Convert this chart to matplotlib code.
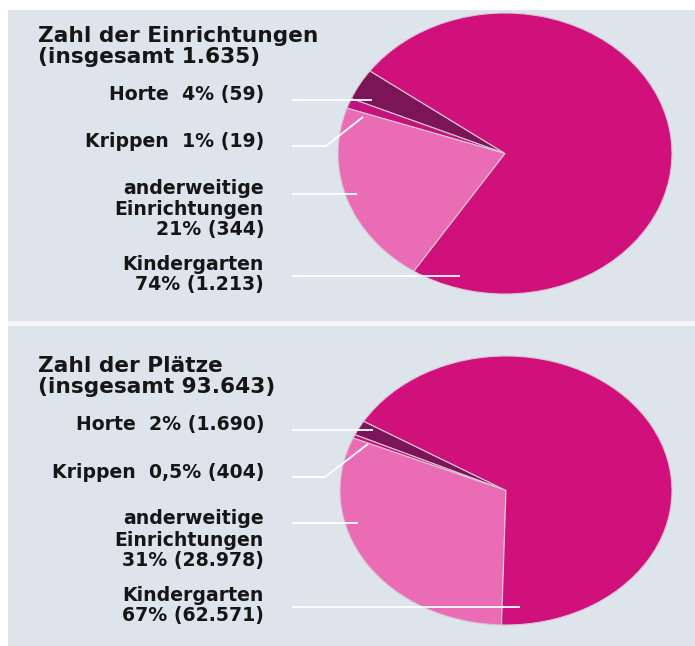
import matplotlib.pyplot as plt
from matplotlib.patches import Rectangle

# Anteile der Einrichtungen und der Plätze
kategorien = ["Horte", "Krippen", "anderweitige Einrichtungen", "Kindergarten"]
einrichtungen = [59, 19, 344, 1213]
plaetze = [1690, 404, 28978, 62571]

labels_einrichtungen = [["Horte  4% (59)"], ["Krippen  1% (19)"],
                        ["anderweitige", "Einrichtungen", "21% (344)"],
                        ["Kindergarten", "74% (1.213)"]]
labels_plaetze = [["Horte  2% (1.690)"], ["Krippen  0,5% (404)"],
                  ["anderweitige", "Einrichtungen", "31% (28.978)"],
                  ["Kindergarten", "67% (62.571)"]]
titel_einrichtungen = ["Zahl der Einrichtungen", "(insgesamt 1.635)"]
titel_plaetze = ["Zahl der Plätze", "(insgesamt 93.643)"]

farben = ["#7c1458", "#c4137c", "#ea6cb4", "#d0117c"]
bg = "#dde4ec"

W, H = 695, 646
fig = plt.figure(figsize=(W / 100, H / 100), dpi=100)
fig.patch.set_facecolor("white")


def px_axes(x0, y0, x1, y1):
    return fig.add_axes([x0 / W, 1 - y1 / H, (x1 - x0) / W, (y1 - y0) / H])


# Hintergrund
bg_ax = px_axes(0, 0, W, H)
bg_ax.set_xlim(0, W)
bg_ax.set_ylim(H, 0)
bg_ax.axis("off")
bg_ax.add_patch(Rectangle((8, 10), W - 8, H - 10, color=bg, lw=0))
bg_ax.add_patch(Rectangle((8, 321), W - 8, 5, color="#f4f6f8", lw=0))


def draw_pie(box, werte, start):
    ax = px_axes(*box)
    ax.pie(werte, colors=farben, startangle=start, counterclock=True,
           wedgeprops=dict(edgecolor="#d9c6d6", linewidth=0.8))
    ax.set_aspect("auto")
    ax.set_xlim(-1.0, 1.0)
    ax.set_ylim(-1.0, 1.0)
    ax.axis("off")


draw_pie((338, 13, 672, 294), einrichtungen, 144)
draw_pie((340, 356, 672, 625), plaetze, 149)

# Beschriftungen und Hinweislinien
ov = px_axes(0, 0, W, H)
ov.set_xlim(0, W)
ov.set_ylim(H, 0)
ov.axis("off")
ov.patch.set_alpha(0)

font = dict(family="DejaVu Sans", weight="bold", color="#161616")


def beschriften(titel, t_y, labels, l_y, linien):
    for zeile, y in zip(titel, t_y):
        ov.text(38, y, zeile, ha="left", va="baseline", fontsize=15.6, **font)
    for zeilen, ys in zip(labels, l_y):
        for zeile, y in zip(zeilen, ys):
            ov.text(264, y, zeile, ha="right", va="baseline", fontsize=13.6,
                    **font)
    for xs, ys in linien:
        ov.plot(xs, ys, color="white", lw=1.3, solid_capstyle="butt")


beschriften(titel_einrichtungen, [42, 63], labels_einrichtungen,
            [[100], [147], [194, 215, 235], [270, 290]],
            [([292, 372], [100, 100]),
             ([292, 326, 363], [146, 146, 117]),
             ([292, 357], [194, 194]),
             ([292, 460], [276, 276])])

beschriften(titel_plaetze, [372, 393], labels_plaetze,
            [[430], [478], [524, 546, 566], [601, 621]],
            [([292, 373], [430, 430]),
             ([292, 325, 368], [477, 477, 444]),
             ([292, 358], [523, 523]),
             ([292, 520], [607, 607])])

fig.savefig("out.png", dpi=100, facecolor=fig.get_facecolor())
